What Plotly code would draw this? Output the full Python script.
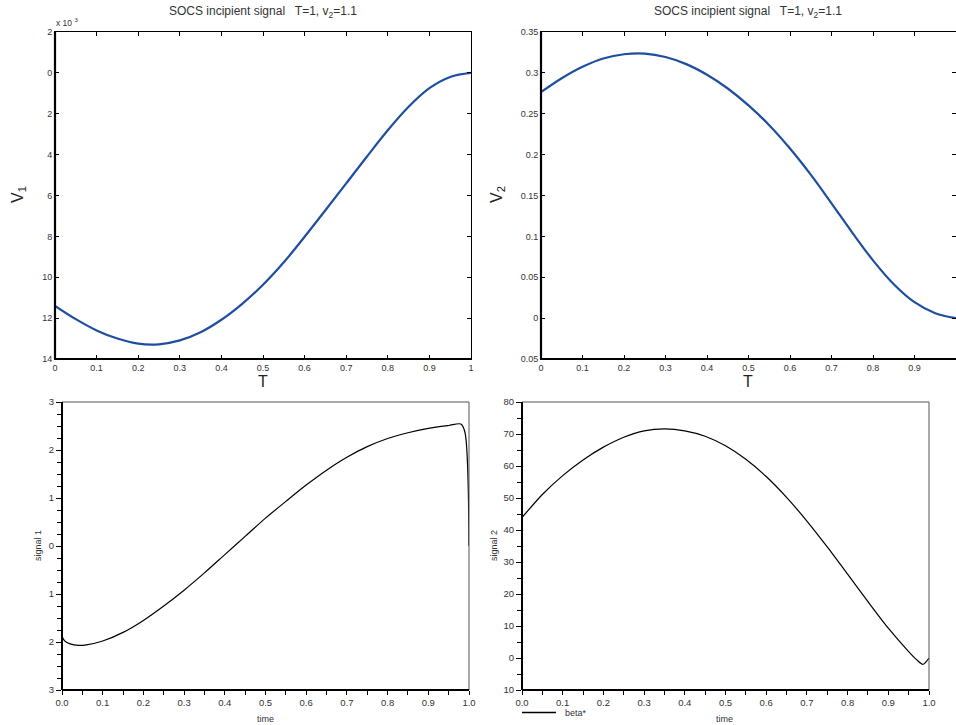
import plotly.graph_objects as go

# ---------------- data ----------------
t_top = [0.0, 0.05, 0.1, 0.15, 0.2, 0.25, 0.3, 0.35, 0.4, 0.45, 0.5, 0.55, 0.6,
         0.65, 0.7, 0.75, 0.8, 0.85, 0.9, 0.95, 1.0]
v1 = [-11.40, -12.05, -12.60, -13.00, -13.25, -13.28, -13.09, -12.69, -12.08, -11.30,
      -10.37, -9.27, -8.02, -6.72, -5.41, -4.09, -2.81, -1.66, -0.75, -0.20, 0.0]

t_v2 = [0.0, 0.05, 0.1, 0.15, 0.2, 0.25, 0.3, 0.35, 0.4, 0.45, 0.5, 0.55, 0.6,
        0.65, 0.7, 0.75, 0.8, 0.85, 0.9, 0.95, 1.0]
v2 = [0.2764, 0.2934, 0.3074, 0.3176, 0.3228, 0.3236, 0.3194, 0.3107, 0.2977, 0.2809,
      0.2603, 0.2360, 0.2075, 0.1755, 0.1405, 0.1047, 0.0707, 0.0415, 0.0195, 0.0060, 0.0]

t_s1 = [0.0, 0.005, 0.01, 0.02, 0.04, 0.06, 0.1, 0.15, 0.2, 0.25, 0.3, 0.35, 0.4, 0.45,
        0.5, 0.55, 0.6, 0.65, 0.7, 0.75, 0.8, 0.85, 0.9, 0.95, 0.98, 0.99, 1.0]
signal1 = [-1.88, -1.96, -2.0, -2.04, -2.07, -2.06, -1.98, -1.80, -1.55, -1.25, -0.92,
           -0.56, -0.18, 0.2, 0.58, 0.93, 1.27, 1.58, 1.85, 2.07, 2.24, 2.36, 2.45,
           2.51, 2.54, 2.37, 0.0]

t_s2 = [0.0, 0.05, 0.1, 0.15, 0.2, 0.25, 0.3, 0.35, 0.4, 0.45, 0.5, 0.55, 0.6, 0.65,
        0.7, 0.75, 0.8, 0.85, 0.9, 0.95, 0.97, 0.985, 1.0]
signal2 = [43.9, 51.1, 57.0, 61.9, 65.9, 69.0, 71.0, 71.6, 71.0, 69.3, 66.3, 62.1, 56.7,
           50.2, 42.8, 34.7, 26.2, 17.6, 9.3, 2.0, -0.6, -2.0, 0.0]

# tick labels (as printed, minus signs lost in the original)
v1_tickvals = [2, 0, -2, -4, -6, -8, -10, -12, -14]
v1_ticktext = ["2", "0", "2", "4", "6", "8", "10", "12", "14"]
v2_tickvals = [0.35, 0.3, 0.25, 0.2, 0.15, 0.1, 0.05, 0, -0.05]
v2_ticktext = ["0.35", "0.3", "0.25", "0.2", "0.15", "0.1", "0.05", "0", "0.05"]
top_xvals = [0, 0.1, 0.2, 0.3, 0.4, 0.5, 0.6, 0.7, 0.8, 0.9, 1.0]
top_xtext = ["0", "0.1", "0.2", "0.3", "0.4", "0.5", "0.6", "0.7", "0.8", "0.9", "1"]
s1_tickvals = [3, 2, 1, 0, -1, -2, -3]
s1_ticktext = ["3", "2", "1", "0", "1", "2", "3"]
s2_tickvals = [80, 70, 60, 50, 40, 30, 20, 10, 0, -10]
s2_ticktext = ["80", "70", "60", "50", "40", "30", "20", "10", "0", "10"]

title_text = "SOCS incipient signal   T=1, v<sub>2</sub>=1.1"
legend_name = "beta*"

# ---------------- layout geometry ----------------
W, H = 956, 725
FONT = "Liberation Sans, Arial, Helvetica, sans-serif"


def px_x(a, b):
    return [a / W, b / W]


def px_y(top, bottom):
    return [1 - bottom / H, 1 - top / H]


fig = go.Figure()
blue = "#1f4e9f"

fig.add_trace(go.Scatter(x=t_top, y=v1, mode="lines",
                         line=dict(color=blue, width=2.2, shape="spline", smoothing=1.0),
                         xaxis="x", yaxis="y", showlegend=False))
fig.add_trace(go.Scatter(x=t_v2, y=v2, mode="lines",
                         line=dict(color=blue, width=2.2, shape="spline", smoothing=1.0),
                         xaxis="x2", yaxis="y2", showlegend=False))
fig.add_trace(go.Scatter(x=t_s1, y=signal1, mode="lines",
                         line=dict(color="black", width=1.2, shape="spline", smoothing=0.85),
                         xaxis="x3", yaxis="y3", showlegend=False))
fig.add_trace(go.Scatter(x=t_s2, y=signal2, mode="lines", name=legend_name,
                         line=dict(color="black", width=1.2, shape="spline", smoothing=0.7),
                         xaxis="x4", yaxis="y4", showlegend=False))

tick_font_top = dict(family=FONT, size=9, color="#333333")
tick_font_bot = dict(family=FONT, size=9.5, color="#333333")

top_x_common = dict(range=[0, 1], tickvals=top_xvals, ticktext=top_xtext, ticks="inside",
                    ticklen=4, tickcolor="black", showline=True, linecolor="black", linewidth=1,
                    mirror="ticks", showgrid=False, zeroline=False, tickfont=tick_font_top,
                    automargin=False)
top_y_common = dict(ticks="inside", ticklen=4, tickcolor="black", showline=True, linecolor="black",
                    linewidth=1, mirror="ticks", showgrid=False, zeroline=False, tickfont=tick_font_top,
                    automargin=False)

bot_x_common = dict(range=[0, 1], dtick=0.1, tick0=0, tickformat=".1f", ticks="outside", ticklen=4,
                    tickcolor="black", showline=False, showgrid=False, zeroline=False,
                    tickfont=tick_font_bot, automargin=False,
                    minor=dict(dtick=0.05, ticks="outside", ticklen=4, tickcolor="black"))
bot_y_common = dict(ticks="outside", ticklen=5, tickcolor="black", showline=False, showgrid=False,
                    zeroline=False, tickfont=tick_font_bot, automargin=False)

fig.update_layout(
    width=W, height=H, margin=dict(l=0, r=0, t=0, b=0, pad=0), autosize=False,
    paper_bgcolor="white", plot_bgcolor="white", showlegend=False,
    font=dict(family=FONT, color="#333333"),
    xaxis=dict(domain=px_x(55, 471), anchor="y", **top_x_common),
    yaxis=dict(domain=px_y(32, 359), anchor="x", range=[-14, 2], tickvals=v1_tickvals,
               ticktext=v1_ticktext, **top_y_common),
    xaxis2=dict(domain=px_x(541, 956), anchor="y2", **top_x_common),
    yaxis2=dict(domain=px_y(32, 359), anchor="x2", range=[-0.05, 0.35], tickvals=v2_tickvals,
                ticktext=v2_ticktext, **top_y_common),
    xaxis3=dict(domain=px_x(62, 469), anchor="y3", **bot_x_common),
    yaxis3=dict(domain=px_y(402, 690), anchor="x3", range=[-3, 3], tickvals=s1_tickvals,
                ticktext=s1_ticktext,
                minor=dict(dtick=0.25, tick0=0, ticks="outside", ticklen=4, tickcolor="black"),
                **bot_y_common),
    xaxis4=dict(domain=px_x(522, 929), anchor="y4", **bot_x_common),
    yaxis4=dict(domain=px_y(402, 690), anchor="x4", range=[-10, 80], tickvals=s2_tickvals,
                ticktext=s2_ticktext,
                minor=dict(dtick=5, tick0=0, ticks="outside", ticklen=4, tickcolor="black"),
                **bot_y_common),
)

shapes = []
# thick left/bottom axes on top plots
for xr, yr in [("x", "y"), ("x2", "y2")]:
    shapes.append(dict(type="line", xref=f"{xr} domain", yref=f"{yr} domain", x0=0, x1=0, y0=0, y1=1,
                       line=dict(color="black", width=2.2)))
    shapes.append(dict(type="line", xref=f"{xr} domain", yref=f"{yr} domain", x0=0, x1=1, y0=0, y1=0,
                       line=dict(color="black", width=2.2)))
# bottom plots: thick black left/bottom, thin grey top/right
for xr, yr in [("x3", "y3"), ("x4", "y4")]:
    shapes.append(dict(type="line", xref=f"{xr} domain", yref=f"{yr} domain", x0=0, x1=1, y0=1, y1=1,
                       line=dict(color="#555555", width=1)))
    shapes.append(dict(type="line", xref=f"{xr} domain", yref=f"{yr} domain", x0=1, x1=1, y0=0, y1=1,
                       line=dict(color="#555555", width=1)))
    shapes.append(dict(type="line", xref=f"{xr} domain", yref=f"{yr} domain", x0=0, x1=0, y0=0, y1=1,
                       line=dict(color="black", width=2)))
    shapes.append(dict(type="line", xref=f"{xr} domain", yref=f"{yr} domain", x0=0, x1=1, y0=0, y1=0,
                       line=dict(color="black", width=2)))
# legend sample line for beta*
shapes.append(dict(type="line", xref="paper", yref="paper", x0=522 / W, x1=556 / W,
                   y0=1 - 712.5 / H, y1=1 - 712.5 / H, line=dict(color="black", width=1.3)))
fig.update_layout(shapes=shapes)

ann = []
tf = dict(family=FONT, size=12, color="#333333")
ann.append(dict(text=title_text, x=263 / W, y=1 - 12 / H, xref="paper", yref="paper", showarrow=False,
                font=tf, xanchor="center", yanchor="middle"))
ann.append(dict(text=title_text, x=748 / W, y=1 - 12 / H, xref="paper", yref="paper", showarrow=False,
                font=tf, xanchor="center", yanchor="middle"))
# exponent label
ann.append(dict(text="x 10 <sup>3</sup>", x=54 / W, y=1 - 22 / H, xref="paper", yref="paper",
                showarrow=False, font=dict(family=FONT, size=8.5, color="#333333"),
                xanchor="left", yanchor="middle"))
# axis titles top
big = dict(family=FONT, size=16, color="#222222")
ann.append(dict(text="V<sub>1</sub>", x=18 / W, y=1 - 195 / H, xref="paper", yref="paper", showarrow=False,
                textangle=-90, font=big, xanchor="center", yanchor="middle"))
ann.append(dict(text="V<sub>2</sub>", x=497 / W, y=1 - 195 / H, xref="paper", yref="paper", showarrow=False,
                textangle=-90, font=big, xanchor="center", yanchor="middle"))
ann.append(dict(text="T", x=263 / W, y=1 - 381 / H, xref="paper", yref="paper", showarrow=False,
                font=big, xanchor="center", yanchor="middle"))
ann.append(dict(text="T", x=748 / W, y=1 - 381 / H, xref="paper", yref="paper", showarrow=False,
                font=big, xanchor="center", yanchor="middle"))
# axis titles bottom
sm = dict(family=FONT, size=9, color="#333333")
ann.append(dict(text="signal 1", x=38 / W, y=1 - 546 / H, xref="paper", yref="paper", showarrow=False,
                textangle=-90, font=sm, xanchor="center", yanchor="middle"))
ann.append(dict(text="signal 2", x=494 / W, y=1 - 546 / H, xref="paper", yref="paper", showarrow=False,
                textangle=-90, font=sm, xanchor="center", yanchor="middle"))
ann.append(dict(text="time", x=265 / W, y=1 - 719 / H, xref="paper", yref="paper", showarrow=False,
                font=sm, xanchor="center", yanchor="middle"))
ann.append(dict(text="time", x=724 / W, y=1 - 719 / H, xref="paper", yref="paper", showarrow=False,
                font=sm, xanchor="center", yanchor="middle"))
# legend text
ann.append(dict(text=legend_name, x=563 / W, y=1 - 713 / H, xref="paper", yref="paper", showarrow=False,
                font=sm, xanchor="left", yanchor="middle"))
fig.update_layout(annotations=ann)

fig.write_html("out.html")
